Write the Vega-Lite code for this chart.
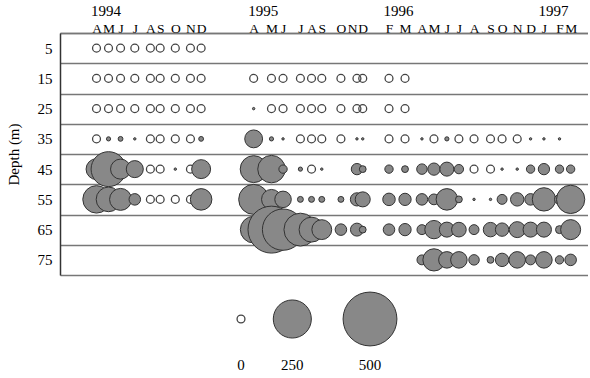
{
  "$schema": "https://vega.github.io/schema/vega-lite/v6.json",
  "padding": {"left": 6, "top": 3, "right": 0, "bottom": 0},
  "spacing": 14,
  "config": {
    "view": {"stroke": null},
    "font": "Liberation Serif",
    "axis": {"labelFont": "Liberation Serif", "titleFont": "Liberation Serif", "labelColor": "#000", "titleColor": "#000"}
  },
  "vconcat": [
    {
      "width": 528,
      "height": 242,
      "data": {"values": [
        {"date":"1994-04-15","depth":5,"n":0},{"date":"1994-05-12","depth":5,"n":0},{"date":"1994-06-08","depth":5,"n":0},{"date":"1994-07-10","depth":5,"n":0},{"date":"1994-08-14","depth":5,"n":0},{"date":"1994-09-05","depth":5,"n":0},{"date":"1994-10-09","depth":5,"n":0},{"date":"1994-11-12","depth":5,"n":0},{"date":"1994-12-06","depth":5,"n":0},
        {"date":"1994-04-15","depth":15,"n":0},{"date":"1994-05-12","depth":15,"n":0},{"date":"1994-06-08","depth":15,"n":0},{"date":"1994-07-10","depth":15,"n":0},{"date":"1994-08-14","depth":15,"n":0},{"date":"1994-09-05","depth":15,"n":0},{"date":"1994-10-09","depth":15,"n":0},{"date":"1994-11-12","depth":15,"n":0},{"date":"1994-12-06","depth":15,"n":0},
        {"date":"1995-04-03","depth":15,"n":0},{"date":"1995-05-13","depth":15,"n":0},{"date":"1995-06-08","depth":15,"n":0},{"date":"1995-07-17","depth":15,"n":0},{"date":"1995-08-11","depth":15,"n":0},{"date":"1995-09-03","depth":15,"n":0},{"date":"1995-10-16","depth":15,"n":0},{"date":"1995-11-21","depth":15,"n":0},{"date":"1995-12-04","depth":15,"n":0},{"date":"1996-02-01","depth":15,"n":0},{"date":"1996-03-08","depth":15,"n":0},
        {"date":"1994-04-15","depth":25,"n":0},{"date":"1994-05-12","depth":25,"n":0},{"date":"1994-06-08","depth":25,"n":0},{"date":"1994-07-10","depth":25,"n":0},{"date":"1994-08-14","depth":25,"n":0},{"date":"1994-09-05","depth":25,"n":0},{"date":"1994-10-09","depth":25,"n":0},{"date":"1994-11-12","depth":25,"n":0},{"date":"1994-12-06","depth":25,"n":0},
        {"date":"1995-04-03","depth":25,"n":1},{"date":"1995-05-13","depth":25,"n":0},{"date":"1995-06-08","depth":25,"n":0},{"date":"1995-07-17","depth":25,"n":0},{"date":"1995-08-11","depth":25,"n":0},{"date":"1995-09-03","depth":25,"n":0},{"date":"1995-10-16","depth":25,"n":0},{"date":"1995-11-21","depth":25,"n":0},{"date":"1995-12-04","depth":25,"n":0},{"date":"1996-02-01","depth":25,"n":0},{"date":"1996-03-08","depth":25,"n":0},
        {"date":"1994-04-15","depth":35,"n":0},{"date":"1994-05-12","depth":35,"n":3},{"date":"1994-06-08","depth":35,"n":4},{"date":"1994-07-10","depth":35,"n":1},{"date":"1994-08-14","depth":35,"n":0},{"date":"1994-09-05","depth":35,"n":0},{"date":"1994-10-09","depth":35,"n":0},{"date":"1994-11-12","depth":35,"n":0},{"date":"1994-12-06","depth":35,"n":4},
        {"date":"1995-04-03","depth":35,"n":55},{"date":"1995-05-13","depth":35,"n":3},{"date":"1995-06-08","depth":35,"n":1},{"date":"1995-07-17","depth":35,"n":0},{"date":"1995-08-11","depth":35,"n":0},{"date":"1995-09-03","depth":35,"n":0},{"date":"1995-10-16","depth":35,"n":0},{"date":"1995-11-21","depth":35,"n":1},{"date":"1995-12-04","depth":35,"n":1},
        {"date":"1996-02-01","depth":35,"n":0},{"date":"1996-03-08","depth":35,"n":0},{"date":"1996-04-15","depth":35,"n":1},{"date":"1996-05-12","depth":35,"n":0},{"date":"1996-06-10","depth":35,"n":3},{"date":"1996-07-07","depth":35,"n":0},{"date":"1996-08-10","depth":35,"n":0},{"date":"1996-09-16","depth":35,"n":0},{"date":"1996-10-12","depth":35,"n":0},{"date":"1996-11-15","depth":35,"n":0},{"date":"1996-12-15","depth":35,"n":1},{"date":"1997-01-14","depth":35,"n":1},{"date":"1997-02-18","depth":35,"n":1},
        {"date":"1994-04-15","depth":45,"n":75},{"date":"1994-05-12","depth":45,"n":210},{"date":"1994-06-08","depth":45,"n":69},{"date":"1994-07-10","depth":45,"n":50},{"date":"1994-08-14","depth":45,"n":0},{"date":"1994-09-05","depth":45,"n":0},{"date":"1994-10-09","depth":45,"n":1},{"date":"1994-11-12","depth":45,"n":0},{"date":"1994-12-06","depth":45,"n":62},
        {"date":"1995-04-03","depth":45,"n":125},{"date":"1995-05-13","depth":45,"n":130},{"date":"1995-06-08","depth":45,"n":12},{"date":"1995-07-17","depth":45,"n":3},{"date":"1995-08-11","depth":45,"n":0},{"date":"1995-09-03","depth":45,"n":1},{"date":"1995-11-21","depth":45,"n":22},{"date":"1995-12-04","depth":45,"n":8},
        {"date":"1996-02-01","depth":45,"n":12},{"date":"1996-03-08","depth":45,"n":8},{"date":"1996-04-15","depth":45,"n":19},{"date":"1996-05-12","depth":45,"n":26},{"date":"1996-06-10","depth":45,"n":34},{"date":"1996-07-07","depth":45,"n":15},{"date":"1996-08-10","depth":45,"n":0},{"date":"1996-09-16","depth":45,"n":0},{"date":"1996-10-12","depth":45,"n":1},{"date":"1996-11-15","depth":45,"n":1},{"date":"1996-12-15","depth":45,"n":12},{"date":"1997-01-14","depth":45,"n":22},{"date":"1997-02-18","depth":45,"n":12},{"date":"1997-03-15","depth":45,"n":12},
        {"date":"1994-04-15","depth":55,"n":130},{"date":"1994-05-12","depth":55,"n":105},{"date":"1994-06-08","depth":55,"n":83},{"date":"1994-07-10","depth":55,"n":23},{"date":"1994-08-14","depth":55,"n":0},{"date":"1994-09-05","depth":55,"n":0},{"date":"1994-10-09","depth":55,"n":0},{"date":"1994-11-12","depth":55,"n":0},{"date":"1994-12-06","depth":55,"n":80},
        {"date":"1995-04-03","depth":55,"n":155},{"date":"1995-05-13","depth":55,"n":68},{"date":"1995-06-08","depth":55,"n":47},{"date":"1995-07-17","depth":55,"n":6},{"date":"1995-08-11","depth":55,"n":6},{"date":"1995-09-03","depth":55,"n":6},{"date":"1995-10-16","depth":55,"n":6},{"date":"1995-11-21","depth":55,"n":30},{"date":"1995-12-04","depth":55,"n":39},
        {"date":"1996-02-01","depth":55,"n":27},{"date":"1996-03-08","depth":55,"n":26},{"date":"1996-04-15","depth":55,"n":23},{"date":"1996-05-12","depth":55,"n":20},{"date":"1996-06-10","depth":55,"n":80},{"date":"1996-07-07","depth":55,"n":8},{"date":"1996-08-10","depth":55,"n":1},{"date":"1996-09-16","depth":55,"n":1},{"date":"1996-10-12","depth":55,"n":17},{"date":"1996-11-15","depth":55,"n":31},{"date":"1996-12-15","depth":55,"n":23},{"date":"1997-01-14","depth":55,"n":94},{"date":"1997-02-18","depth":55,"n":17},{"date":"1997-03-15","depth":55,"n":138},
        {"date":"1995-04-03","depth":65,"n":122},{"date":"1995-05-13","depth":65,"n":380},{"date":"1995-06-08","depth":65,"n":294},{"date":"1995-07-17","depth":65,"n":187},{"date":"1995-08-11","depth":65,"n":107},{"date":"1995-09-03","depth":65,"n":68},{"date":"1995-10-16","depth":65,"n":23},{"date":"1995-11-21","depth":65,"n":29},{"date":"1995-12-04","depth":65,"n":8},
        {"date":"1996-02-01","depth":65,"n":23},{"date":"1996-03-08","depth":65,"n":26},{"date":"1996-04-15","depth":65,"n":17},{"date":"1996-05-12","depth":65,"n":58},{"date":"1996-06-10","depth":65,"n":39},{"date":"1996-07-07","depth":65,"n":37},{"date":"1996-08-10","depth":65,"n":17},{"date":"1996-09-16","depth":65,"n":36},{"date":"1996-10-12","depth":65,"n":31},{"date":"1996-11-15","depth":65,"n":44},{"date":"1996-12-15","depth":65,"n":39},{"date":"1997-01-14","depth":65,"n":39},{"date":"1997-02-18","depth":65,"n":11},{"date":"1997-03-15","depth":65,"n":69},
        {"date":"1996-04-15","depth":75,"n":17},{"date":"1996-05-12","depth":75,"n":85},{"date":"1996-06-10","depth":75,"n":47},{"date":"1996-07-07","depth":75,"n":47},{"date":"1996-08-10","depth":75,"n":19},{"date":"1996-09-16","depth":75,"n":8},{"date":"1996-10-12","depth":75,"n":31},{"date":"1996-11-15","depth":75,"n":47},{"date":"1996-12-15","depth":75,"n":17},{"date":"1997-01-14","depth":75,"n":47},{"date":"1997-02-18","depth":75,"n":12},{"date":"1997-03-15","depth":75,"n":23}
      ]},
      "encoding": {
        "y": {
          "field": "depth", "type": "ordinal",
          "scale": {"type": "band", "domain": [5, 15, 25, 35, 45, 55, 65, 75], "paddingInner": 0, "paddingOuter": 0},
          "axis": {"title": "Depth (m)", "titleFontSize": 15, "titleFontWeight": "normal", "titlePadding": 16, "labelFontSize": 15, "labelPadding": 8, "labelAngle": 0, "ticks": false, "domainColor": "#333", "domainWidth": 1.5, "grid": true, "tickBand": "extent", "gridColor": "#777", "gridWidth": 1.5, "gridOpacity": 1}
        }
      },
      "layer": [
        {
          "transform": [{"filter": "datum.n == 0"}],
          "mark": {"type": "point", "shape": "circle", "filled": false, "size": 62, "stroke": "#444", "strokeWidth": 1.3, "opacity": 1},
          "encoding": {
            "x": {
              "field": "date", "type": "temporal",
              "scale": {"domain": [{"year": 1994, "month": 1, "date": 23, "utc": true}, {"year": 1997, "month": 4, "date": 23, "utc": true}]},
              "axis": {
                "orient": "top", "title": null, "ticks": false, "grid": false, "domain": true, "domainColor": "#777", "domainWidth": 1.5,
                "labelFontSize": 13.5, "labelPadding": 1, "labelBaseline": "alphabetic", "labelOverlap": false, "labelFlush": false,
                "labelExpr": "substring(utcFormat(datum.value, '%b'), 0, 1)",
                "labelAlign": {"condition": {"test": "utcyear(datum.value) == 1995 && utcmonth(datum.value) == 10", "value": "right"}, "value": "center"},
                "values": [
                  {"year":1994,"month":4,"date":15,"utc":true},{"year":1994,"month":5,"date":12,"utc":true},{"year":1994,"month":6,"date":8,"utc":true},{"year":1994,"month":7,"date":10,"utc":true},{"year":1994,"month":8,"date":14,"utc":true},{"year":1994,"month":9,"date":5,"utc":true},{"year":1994,"month":10,"date":9,"utc":true},{"year":1994,"month":11,"date":12,"utc":true},{"year":1994,"month":12,"date":6,"utc":true},
                  {"year":1995,"month":4,"date":3,"utc":true},{"year":1995,"month":5,"date":13,"utc":true},{"year":1995,"month":6,"date":8,"utc":true},{"year":1995,"month":7,"date":17,"utc":true},{"year":1995,"month":8,"date":11,"utc":true},{"year":1995,"month":9,"date":3,"utc":true},{"year":1995,"month":10,"date":16,"utc":true},{"year":1995,"month":11,"date":21,"utc":true},{"year":1995,"month":12,"date":4,"utc":true},
                  {"year":1996,"month":2,"date":1,"utc":true},{"year":1996,"month":3,"date":8,"utc":true},{"year":1996,"month":4,"date":15,"utc":true},{"year":1996,"month":5,"date":12,"utc":true},{"year":1996,"month":6,"date":10,"utc":true},{"year":1996,"month":7,"date":7,"utc":true},{"year":1996,"month":8,"date":10,"utc":true},{"year":1996,"month":9,"date":16,"utc":true},{"year":1996,"month":10,"date":12,"utc":true},{"year":1996,"month":11,"date":15,"utc":true},{"year":1996,"month":12,"date":15,"utc":true},
                  {"year":1997,"month":1,"date":14,"utc":true},{"year":1997,"month":2,"date":18,"utc":true},{"year":1997,"month":3,"date":15,"utc":true}
                ]
              }
            }
          }
        },
        {
          "transform": [{"filter": "datum.n > 0"}],
          "mark": {"type": "circle", "fill": "#888", "stroke": "#333", "strokeWidth": 1, "opacity": 1},
          "encoding": {
            "x": {
              "field": "date", "type": "temporal",
              "scale": {"domain": [{"year": 1994, "month": 1, "date": 23, "utc": true}, {"year": 1997, "month": 4, "date": 23, "utc": true}]},
              "axis": {
                "orient": "top", "title": null, "ticks": false, "grid": false, "domain": false,
                "labelFontSize": 15, "labelPadding": 17.5, "labelBaseline": "alphabetic", "labelAlign": "left", "labelOffset": -6, "labelOverlap": false, "labelFlush": false,
                "labelExpr": "utcFormat(datum.value, '%Y')",
                "values": [{"year":1994,"month":4,"date":15,"utc":true},{"year":1995,"month":4,"date":3,"utc":true},{"year":1996,"month":2,"date":1,"utc":true},{"year":1997,"month":1,"date":14,"utc":true}]
              }
            },
            "size": {"field": "n", "type": "quantitative", "scale": {"domain": [0, 500], "range": [0, 2900]}, "legend": null}
          }
        }
      ],
      "resolve": {"axis": {"x": "independent"}}
    },
    {
      "width": 528,
      "height": 60,
      "data": {"values": [{"n": 0}, {"n": 250}, {"n": 500}]},
      "encoding": {
        "x": {"field": "n", "type": "quantitative", "scale": {"type": "pow", "exponent": 1.33, "domain": [0, 500], "range": [181, 310]}, "axis": null}
      },
      "layer": [
        {
          "transform": [{"filter": "datum.n == 0"}],
          "mark": {"type": "point", "shape": "circle", "filled": false, "size": 62, "stroke": "#444", "strokeWidth": 1.3, "opacity": 1}
        },
        {
          "transform": [{"filter": "datum.n > 0"}],
          "mark": {"type": "circle", "fill": "#888", "stroke": "#333", "strokeWidth": 1, "opacity": 1},
          "encoding": {"size": {"field": "n", "type": "quantitative", "scale": {"domain": [0, 500], "range": [0, 2900]}, "legend": null}}
        },
        {
          "mark": {"type": "text", "dy": 51, "baseline": "alphabetic", "fontSize": 15, "font": "Liberation Serif", "color": "#000"},
          "encoding": {"text": {"field": "n", "type": "nominal"}}
        }
      ]
    }
  ]
}
